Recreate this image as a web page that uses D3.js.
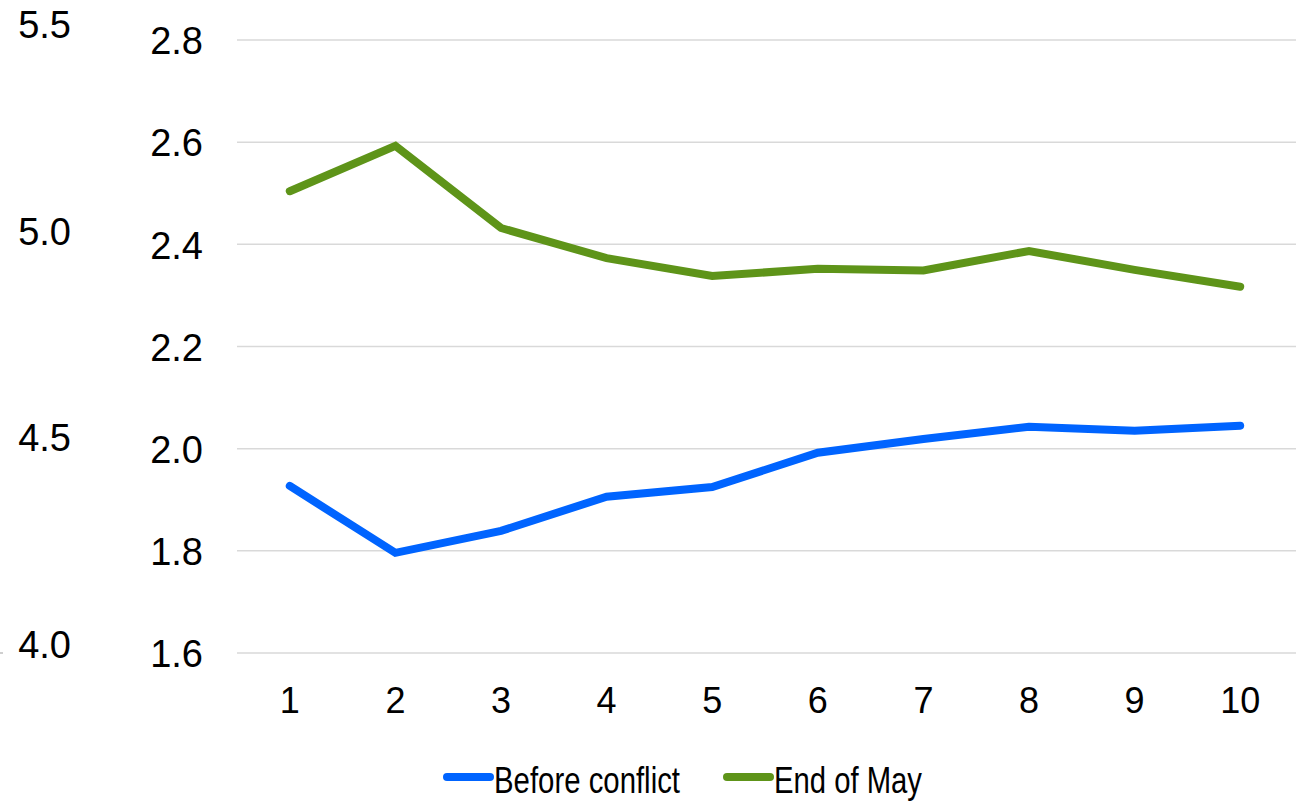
<!DOCTYPE html>
<html>
<head>
<meta charset="utf-8">
<script src="https://cdn.jsdelivr.net/npm/d3@7"></script>
<style>
  body { margin: 0; background: #fff; }
  svg { display: block; font-family: "Liberation Sans", Arial, sans-serif; }
</style>
</head>
<body>
<svg id="chart"></svg>
<script>
var width = 1306;
var height = 801;

var categories = [1, 2, 3, 4, 5, 6, 7, 8, 9, 10];
var beforeConflict = [1.927, 1.796, 1.839, 1.906, 1.925, 1.992, 2.019, 2.043, 2.035, 2.045];
var endOfMay = [2.504, 2.593, 2.432, 2.373, 2.338, 2.352, 2.349, 2.387, 2.350, 2.317];
var yTicks = [1.6, 1.8, 2.0, 2.2, 2.4, 2.6, 2.8];
var leftTicks = [4.0, 4.5, 5.0, 5.5];
var seriesNames = ['Before conflict', 'End of May'];
var seriesColors = ['#0064ff', '#5e9419'];

var plot = { left: 237, right: 1293, top: 40, bottom: 653 };

var svg = d3.select('#chart')
    .attr('width', width)
    .attr('height', height);

var xScale = d3.scaleBand()
    .domain(categories)
    .range([plot.left, plot.right]);

var yScale = d3.scaleLinear()
    .domain([1.6, 2.8])
    .range([plot.bottom, plot.top]);

// the stray left axis
var leftScale = d3.scaleLinear()
    .domain([4.0, 5.5])
    .range([653, 33]);

// gridlines
svg.append('g')
  .selectAll('line')
  .data(yTicks)
  .enter()
  .append('line')
    .attr('x1', plot.left)
    .attr('x2', 1296)
    .attr('y1', function(d) { return yScale(d); })
    .attr('y2', function(d) { return yScale(d); })
    .attr('stroke', '#d9d9d9')
    .attr('stroke-width', 1.5);

// right y axis labels
var yAxis = d3.axisLeft(yScale)
    .tickValues(yTicks)
    .tickFormat(d3.format('.1f'))
    .tickSize(0)
    .tickPadding(0);

svg.append('g')
    .attr('transform', 'translate(203,0)')
    .call(yAxis)
    .call(function(g) {
      g.select('.domain').remove();
      g.selectAll('text')
        .attr('font-size', 38)
        .attr('font-family', '"Liberation Sans", Arial, sans-serif')
        .attr('fill', '#000')
        .attr('dy', '0.36em');
    });

// left axis labels
var leftAxis = d3.axisLeft(leftScale)
    .tickValues(leftTicks)
    .tickFormat(d3.format('.1f'))
    .tickSize(0)
    .tickPadding(0);

svg.append('g')
    .attr('transform', 'translate(71,0)')
    .call(leftAxis)
    .call(function(g) {
      g.select('.domain').remove();
      g.selectAll('text')
        .attr('font-size', 38)
        .attr('font-family', '"Liberation Sans", Arial, sans-serif')
        .attr('fill', '#000')
        .attr('dy', '0.12em');
    });

svg.append('line')
    .attr('x1', 0)
    .attr('x2', 3)
    .attr('y1', leftScale(4.0))
    .attr('y2', leftScale(4.0))
    .attr('stroke', '#bfbfbf')
    .attr('stroke-width', 1.5);

// x axis labels
var xAxis = d3.axisBottom(xScale)
    .tickSize(0)
    .tickPadding(0);

svg.append('g')
    .attr('transform', 'translate(0,' + (plot.bottom + 34) + ')')
    .call(xAxis)
    .call(function(g) {
      g.select('.domain').remove();
      g.selectAll('text')
        .attr('font-size', 36)
        .attr('font-family', '"Liberation Sans", Arial, sans-serif')
        .attr('fill', '#000')
        .attr('dy', '0.71em');
    });

// lines
var line = d3.line()
    .x(function(d) { return xScale(d.x) + xScale.bandwidth() / 2; })
    .y(function(d) { return yScale(d.y); });

[beforeConflict, endOfMay].forEach(function(values, i) {
  svg.append('path')
      .datum(categories.map(function(c, j) { return { x: c, y: values[j] }; }))
      .attr('d', line)
      .attr('fill', 'none')
      .attr('stroke', seriesColors[i])
      .attr('stroke-width', 8)
      .attr('stroke-linejoin', 'miter')
      .attr('stroke-linecap', 'round');
});

// legend
var legendItems = [
  { x: 447, textWidth: 186 },
  { x: 727, textWidth: 148 }
];

var legend = svg.append('g')
  .selectAll('g')
  .data(seriesNames)
  .enter()
  .append('g')
    .attr('transform', function(d, i) { return 'translate(' + legendItems[i].x + ',777)'; });

legend.append('line')
    .attr('x1', 0)
    .attr('x2', 43)
    .attr('stroke', function(d, i) { return seriesColors[i]; })
    .attr('stroke-width', 8)
    .attr('stroke-linecap', 'round');

legend.append('text')
    .attr('x', 47)
    .attr('y', 16)
    .attr('font-size', 37)
    .attr('fill', '#000')
    .attr('textLength', function(d, i) { return legendItems[i].textWidth; })
    .attr('lengthAdjust', 'spacingAndGlyphs')
    .text(function(d) { return d; });
</script>
</body>
</html>
